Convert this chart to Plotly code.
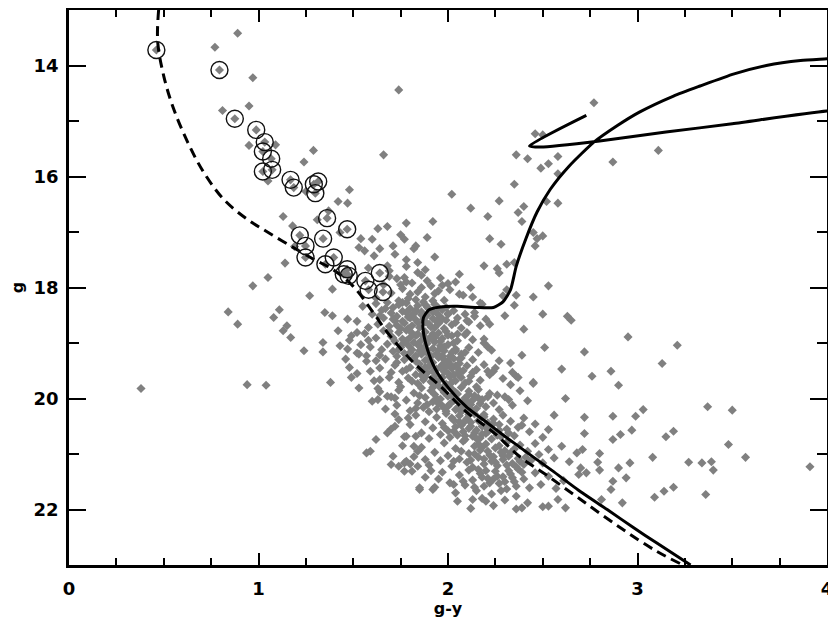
import plotly.graph_objects as go

# ---- data ----
# circled stars (g-y, g)
circled = [
    (0.461, 13.72), (0.794, 14.08), (0.875, 14.96), (0.988, 15.16), (1.033, 15.38),
    (1.023, 15.55), (1.067, 15.68), (1.023, 15.91), (1.072, 15.88), (1.169, 16.06),
    (1.186, 16.20), (1.315, 16.09), (1.292, 16.14), (1.300, 16.30), (1.362, 16.75),
    (1.468, 16.95), (1.341, 17.12), (1.218, 17.06), (1.248, 17.25), (1.248, 17.46),
    (1.397, 17.46), (1.353, 17.58), (1.468, 17.67), (1.476, 17.79), (1.450, 17.76),
    (1.564, 17.88), (1.581, 18.04), (1.640, 17.74), (1.657, 18.08),
]

# scattered field stars
field = [
    (0.89, 13.42), (0.77, 13.67), (0.97, 14.22), (1.74, 14.44), (0.81, 14.81), (0.95, 14.73),
    (0.95, 15.44), (1.09, 15.43), (1.29, 15.53), (1.66, 15.61), (1.24, 15.74), (1.05, 16.08),
    (1.25, 16.27), (1.48, 16.24), (1.42, 16.45), (1.47, 16.48), (1.37, 16.62), (1.78, 16.84),
    (1.13, 16.72), (1.31, 16.78), (1.18, 16.89), (1.63, 16.94), (1.68, 16.90), (1.54, 17.12),
    (1.60, 17.13), (1.77, 17.13), (1.71, 17.25), (1.53, 17.28), (1.64, 17.30), (1.43, 17.01),
    (1.83, 17.25), (1.78, 17.50), (1.56, 17.34), (1.61, 17.43), (1.84, 17.73), (1.14, 17.56),
    (1.19, 17.26), (1.68, 17.61), (1.77, 17.82), (1.05, 17.82), (0.97, 17.97), (1.27, 18.15),
    (1.39, 18.03), (0.84, 18.44), (1.11, 18.40), (1.35, 18.45), (1.08, 18.54), (1.39, 18.51),
    (0.89, 18.66), (1.13, 18.78), (1.15, 18.69), (1.17, 18.90), (1.24, 19.14), (1.42, 18.78),
    (1.47, 18.57), (1.49, 18.87), (1.34, 18.99), (1.34, 19.16), (1.43, 19.05), (1.47, 19.11),
    (1.52, 18.81), (1.53, 19.20), (1.46, 19.29), (1.48, 19.44), (1.49, 19.62), (1.38, 19.71),
    (0.94, 19.75), (1.04, 19.76), (0.38, 19.82), (1.53, 19.81), (1.57, 19.23), (1.59, 19.51),
    (1.62, 19.32), (1.64, 19.66), (1.63, 19.82), (1.63, 20.02), (1.68, 19.96), (1.72, 19.99),
    (1.62, 20.74), (1.57, 20.98), (1.59, 20.95), (1.71, 21.04), (1.70, 21.19), (1.74, 21.22),
    (1.77, 21.31), (1.78, 21.13), (1.72, 20.50), (1.78, 20.68), (1.83, 20.68), (1.82, 20.86),
    (1.85, 21.61), (1.84, 21.22),
    (2.50, 18.48), (2.65, 18.59), (2.40, 18.75), (2.95, 18.89), (3.21, 19.04), (2.51, 19.08),
    (2.72, 19.16), (2.39, 19.22), (3.13, 19.37), (2.27, 19.32), (2.60, 19.47), (2.86, 19.51),
    (2.76, 19.60), (2.90, 19.76), (2.45, 19.71), (2.33, 19.75), (2.36, 19.60), (2.21, 19.51),
    (2.62, 20.00), (3.03, 20.20), (2.99, 20.32), (3.37, 20.15), (3.50, 20.21), (2.56, 20.30),
    (2.72, 20.34), (2.87, 20.32), (2.97, 20.57), (3.19, 20.59), (3.15, 20.69), (2.91, 20.65),
    (2.87, 20.74), (2.72, 20.63), (3.48, 20.83), (3.08, 21.06), (3.57, 21.06), (3.27, 21.15),
    (3.34, 21.16), (3.39, 21.14), (3.40, 21.29), (3.91, 21.23), (3.36, 21.73), (3.19, 21.60),
    (3.14, 21.67), (3.09, 21.78), (2.92, 21.88), (2.96, 21.16), (2.90, 21.25), (2.94, 21.43),
    (2.87, 21.49), (2.86, 21.64), (2.80, 20.99), (2.79, 21.15), (2.80, 21.29), (2.70, 21.25),
    (2.73, 21.34), (2.69, 21.37), (2.71, 20.92), (2.81, 21.82), (2.62, 21.97), (2.53, 21.94),
    (2.39, 21.97), (2.36, 21.76), (2.20, 21.85), (2.13, 21.82), (2.03, 21.55), (1.92, 21.64),
    (1.85, 21.64), (1.81, 21.31), (1.77, 21.16),
    (2.77, 14.67), (2.46, 15.23), (2.50, 15.25), (2.36, 15.61), (2.42, 15.68), (2.49, 15.85),
    (2.53, 15.77), (2.58, 15.64), (2.58, 15.95), (2.87, 15.74), (3.11, 15.53), (2.35, 16.14),
    (2.02, 16.32), (2.27, 16.44), (2.52, 16.45), (2.58, 16.48), (2.12, 16.57), (2.40, 16.54),
    (2.37, 16.65), (2.21, 16.72), (2.39, 16.81), (1.92, 16.81), (2.45, 17.01), (2.50, 17.07),
    (2.47, 17.12), (2.46, 17.25), (2.22, 17.12), (2.28, 17.22), (1.89, 17.10), (2.31, 17.58),
    (2.35, 17.55), (2.26, 17.66), (2.27, 17.74), (2.19, 17.61), (2.06, 17.76), (2.53, 17.97),
    (2.31, 18.04), (2.36, 18.14), (2.06, 18.12), (2.13, 18.17), (2.17, 18.28), (2.45, 18.17),
    (2.35, 18.32), (2.63, 18.52), (2.29, 18.15), (2.30, 18.51), (2.22, 18.66), (2.19, 18.93),
    (2.21, 19.07), (2.24, 19.51), (2.34, 19.53), (2.37, 19.62), (2.45, 19.73), (2.13, 19.53),
    (2.09, 19.17), (2.04, 19.14), (2.06, 19.29), (2.15, 19.79), (2.21, 19.97), (2.26, 19.94),
    (2.32, 20.02), (2.10, 18.81), (2.05, 18.84), (2.18, 18.30), (2.00, 18.48), (2.10, 18.60),
    (2.14, 18.45),
]

# dense main-sequence cloud
cloud = [
    (1.72, 17.40), (1.78, 17.62), (1.84, 17.55), (1.69, 17.70), (1.88, 17.68), (1.75, 17.05),
    (1.82, 17.30), (1.58, 17.65), (1.93, 17.45),
    (1.66, 17.95), (1.70, 18.10), (1.73, 17.84), (1.76, 18.02), (1.79, 18.20), (1.81, 17.92),
    (1.84, 18.08), (1.86, 17.78), (1.88, 18.17), (1.91, 17.97), (1.93, 18.11), (1.96, 17.83),
    (1.98, 18.23), (2.01, 18.04), (2.04, 17.90), (2.08, 18.14), (2.12, 18.00), (1.62, 18.19),
    (1.69, 17.80), (1.74, 18.24), (1.83, 18.22), (1.89, 17.88), (1.95, 18.06), (2.00, 17.93),
    (1.78, 17.90), (1.80, 18.12), (1.86, 18.00), (1.92, 18.24), (1.75, 17.95), (1.97, 17.96),
    (1.52, 18.61), (1.55, 18.34), (1.58, 18.72), (1.60, 18.48), (1.62, 18.29), (1.63, 18.66),
    (1.65, 18.41), (1.66, 18.55), (1.68, 18.27), (1.69, 18.70), (1.70, 18.46), (1.71, 18.36),
    (1.72, 18.60), (1.73, 18.52), (1.74, 18.31), (1.75, 18.74), (1.76, 18.43), (1.77, 18.64),
    (1.78, 18.28), (1.79, 18.53), (1.80, 18.38), (1.81, 18.69), (1.82, 18.47), (1.83, 18.58),
    (1.84, 18.33), (1.85, 18.72), (1.86, 18.44), (1.87, 18.26), (1.88, 18.62), (1.89, 18.50),
    (1.90, 18.39), (1.91, 18.71), (1.92, 18.56), (1.93, 18.30), (1.94, 18.46), (1.95, 18.65),
    (1.96, 18.53), (1.97, 18.40), (1.98, 18.74), (1.99, 18.59), (2.00, 18.47), (2.02, 18.67),
    (2.03, 18.42), (2.05, 18.55), (2.07, 18.73), (2.09, 18.48), (2.11, 18.62), (2.14, 18.52),
    (2.17, 18.69), (2.20, 18.57), (1.67, 18.38), (1.73, 18.68), (1.78, 18.45), (1.84, 18.63),
    (1.89, 18.35), (1.94, 18.61), (1.99, 18.36), (2.04, 18.63), (1.64, 18.51), (1.71, 18.57),
    (1.76, 18.27), (1.81, 18.50), (1.87, 18.57), (1.92, 18.44),
    (1.80, 18.55), (1.86, 18.49), (1.90, 18.66), (1.95, 18.37), (1.83, 18.41), (1.88, 18.31),
    (1.76, 18.61), (1.97, 18.57), (1.93, 18.72), (1.79, 18.74),
    (1.48, 18.95), (1.52, 19.18), (1.56, 18.83), (1.59, 19.07), (1.62, 18.91), (1.64, 19.22),
    (1.66, 18.78), (1.68, 19.02), (1.70, 18.88), (1.71, 19.15), (1.72, 18.97), (1.73, 19.24),
    (1.74, 18.81), (1.75, 19.08), (1.76, 18.93), (1.77, 19.19), (1.78, 18.77), (1.79, 19.04),
    (1.80, 18.90), (1.81, 19.12), (1.82, 18.99), (1.83, 19.23), (1.84, 18.84), (1.85, 19.06),
    (1.86, 18.95), (1.87, 19.16), (1.88, 18.80), (1.89, 19.01), (1.90, 19.21), (1.91, 18.89),
    (1.92, 19.10), (1.93, 18.98), (1.94, 19.19), (1.95, 18.82), (1.96, 19.05), (1.97, 18.92),
    (1.98, 19.14), (1.99, 18.79), (2.00, 19.03), (2.01, 19.24), (2.02, 18.87), (2.04, 19.11),
    (2.05, 18.96), (2.07, 19.20), (2.09, 18.85), (2.11, 19.08), (2.13, 18.94), (2.16, 19.17),
    (2.19, 19.00), (2.23, 19.13), (1.69, 18.79), (1.74, 19.12), (1.78, 18.96), (1.83, 18.87),
    (1.87, 19.09), (1.92, 18.84), (1.97, 19.23), (2.03, 19.00), (1.71, 18.91), (1.76, 19.02),
    (1.81, 18.82), (1.86, 19.20), (1.90, 18.93), (1.95, 19.13), (2.00, 18.86), (1.58, 18.95),
    (1.65, 19.12), (1.54, 19.03),
    (1.84, 19.02), (1.89, 19.13), (1.93, 18.90), (1.98, 19.07), (2.02, 19.17), (1.80, 19.17),
    (1.87, 18.87), (1.96, 18.97), (1.91, 19.24), (1.85, 19.14),
    (1.52, 19.55), (1.57, 19.33), (1.61, 19.68), (1.64, 19.45), (1.67, 19.29), (1.69, 19.62),
    (1.72, 19.40), (1.74, 19.71), (1.76, 19.51), (1.77, 19.30), (1.79, 19.63), (1.80, 19.44),
    (1.82, 19.27), (1.83, 19.57), (1.84, 19.73), (1.85, 19.38), (1.86, 19.49), (1.87, 19.66),
    (1.88, 19.31), (1.89, 19.54), (1.90, 19.42), (1.91, 19.70), (1.92, 19.35), (1.93, 19.59),
    (1.94, 19.47), (1.95, 19.26), (1.96, 19.65), (1.97, 19.39), (1.98, 19.52), (1.99, 19.74),
    (2.00, 19.33), (2.01, 19.61), (2.02, 19.46), (2.03, 19.28), (2.04, 19.68), (2.05, 19.55),
    (2.06, 19.37), (2.08, 19.50), (2.09, 19.72), (2.10, 19.41), (2.12, 19.60), (2.13, 19.30),
    (2.15, 19.48), (2.17, 19.67), (2.19, 19.39), (2.22, 19.57), (2.25, 19.45), (2.29, 19.64),
    (2.33, 19.36), (1.78, 19.48), (1.81, 19.69), (1.86, 19.58), (1.90, 19.29), (1.94, 19.71),
    (1.99, 19.43), (2.03, 19.57), (2.07, 19.27), (2.11, 19.69), (1.73, 19.35), (1.88, 19.44),
    (1.97, 19.62), (2.06, 19.49), (1.70, 19.53), (1.83, 19.33), (1.92, 19.51), (2.01, 19.38),
    (1.91, 19.36), (1.96, 19.44), (2.00, 19.55), (2.04, 19.41), (1.88, 19.61), (1.93, 19.68),
    (2.07, 19.62), (1.85, 19.46), (1.98, 19.30), (2.02, 19.71),
    (1.60, 20.05), (1.64, 19.88), (1.67, 20.19), (1.70, 19.97), (1.73, 20.12), (1.75, 19.79),
    (1.78, 20.03), (1.80, 20.22), (1.82, 19.90), (1.84, 20.08), (1.86, 19.81), (1.87, 20.16),
    (1.88, 19.98), (1.90, 20.24), (1.91, 19.86), (1.92, 20.06), (1.93, 19.93), (1.94, 20.19),
    (1.95, 19.77), (1.96, 20.01), (1.97, 20.13), (1.98, 19.89), (1.99, 20.23), (2.00, 19.96),
    (2.01, 20.10), (2.02, 19.83), (2.03, 20.04), (2.04, 20.20), (2.05, 19.92), (2.06, 20.14),
    (2.07, 19.80), (2.08, 20.07), (2.09, 19.99), (2.10, 20.21), (2.11, 19.87), (2.12, 20.11),
    (2.14, 19.95), (2.15, 20.18), (2.16, 19.84), (2.18, 20.02), (2.20, 20.15), (2.22, 19.91),
    (2.24, 20.08), (2.27, 20.20), (2.30, 19.97), (2.34, 20.12), (2.38, 19.86), (2.42, 20.04),
    (1.89, 20.11), (1.95, 20.09), (2.01, 19.81), (2.07, 20.24), (2.13, 20.03), (1.85, 19.95),
    (1.98, 20.17), (2.04, 19.89), (2.10, 20.06), (1.83, 20.18), (1.92, 19.80), (2.17, 20.09),
    (1.97, 19.84), (2.02, 19.95), (2.06, 20.06), (2.11, 19.93), (2.00, 20.14), (2.08, 20.17),
    (1.94, 20.00), (2.13, 20.22), (2.16, 19.99), (1.99, 19.76), (1.74, 19.85), (1.79, 20.35),
    (1.72, 20.28),
    (1.70, 20.55), (1.74, 20.38), (1.77, 20.69), (1.80, 20.47), (1.83, 20.30), (1.86, 20.62),
    (1.88, 20.42), (1.90, 20.72), (1.92, 20.53), (1.94, 20.34), (1.96, 20.65), (1.97, 20.45),
    (1.99, 20.27), (2.00, 20.58), (2.01, 20.70), (2.03, 20.39), (2.04, 20.51), (2.05, 20.66),
    (2.06, 20.31), (2.07, 20.48), (2.08, 20.60), (2.09, 20.74), (2.10, 20.36), (2.11, 20.54),
    (2.12, 20.43), (2.13, 20.68), (2.14, 20.28), (2.15, 20.57), (2.16, 20.40), (2.17, 20.71),
    (2.18, 20.50), (2.19, 20.33), (2.20, 20.63), (2.21, 20.44), (2.22, 20.56), (2.23, 20.73),
    (2.24, 20.37), (2.25, 20.61), (2.27, 20.47), (2.28, 20.69), (2.29, 20.30), (2.31, 20.55),
    (2.33, 20.41), (2.35, 20.67), (2.37, 20.52), (2.40, 20.35), (2.43, 20.60), (2.46, 20.46),
    (2.50, 20.70), (2.53, 20.56), (2.02, 20.35), (2.08, 20.44), (2.14, 20.62), (2.20, 20.52),
    (2.26, 20.66), (1.98, 20.52), (2.11, 20.29), (2.18, 20.64), (2.32, 20.62), (2.39, 20.48),
    (2.06, 20.42), (2.12, 20.50), (2.17, 20.36), (2.21, 20.60), (2.09, 20.67), (2.15, 20.72),
    (2.24, 20.45), (2.03, 20.59), (2.19, 20.29), (2.27, 20.57), (1.68, 20.62),
    (1.82, 21.05), (1.86, 20.88), (1.90, 21.20), (1.93, 20.97), (1.96, 21.12), (1.98, 20.80),
    (2.00, 21.03), (2.02, 21.22), (2.04, 20.90), (2.06, 21.09), (2.08, 20.77), (2.10, 21.15),
    (2.11, 20.99), (2.13, 21.24), (2.14, 20.86), (2.16, 21.06), (2.17, 20.93), (2.19, 21.18),
    (2.20, 20.82), (2.22, 21.02), (2.23, 21.13), (2.25, 20.89), (2.26, 21.21), (2.28, 20.97),
    (2.29, 21.10), (2.31, 20.79), (2.32, 21.04), (2.34, 21.17), (2.35, 20.91), (2.37, 21.08),
    (2.38, 20.84), (2.40, 21.19), (2.42, 20.95), (2.44, 21.11), (2.46, 20.81), (2.48, 21.01),
    (2.50, 21.16), (2.53, 20.92), (2.56, 21.07), (2.60, 20.86), (2.64, 21.14), (2.68, 20.98),
    (2.07, 20.95), (2.12, 21.11), (2.18, 20.88), (2.24, 21.05), (2.30, 20.94), (2.36, 21.23),
    (2.41, 21.06), (2.03, 21.13),
    (2.16, 20.82), (2.21, 20.95), (2.27, 20.85), (2.33, 20.98), (2.19, 21.09), (2.25, 21.15),
    (2.31, 21.20), (2.38, 21.13), (2.14, 21.00), (2.29, 21.03), (1.76, 20.85), (1.84, 20.95),
    (1.88, 21.10), (1.80, 21.18),
    (1.88, 21.42), (1.93, 21.60), (1.97, 21.33), (2.01, 21.52), (2.04, 21.70), (2.06, 21.38),
    (2.09, 21.56), (2.11, 21.29), (2.13, 21.47), (2.15, 21.66), (2.17, 21.35), (2.19, 21.58),
    (2.21, 21.44), (2.23, 21.72), (2.25, 21.31), (2.27, 21.53), (2.29, 21.41), (2.31, 21.63),
    (2.33, 21.36), (2.35, 21.50), (2.37, 21.27), (2.40, 21.45), (2.43, 21.61), (2.46, 21.34),
    (2.49, 21.55), (2.53, 21.40), (2.57, 21.62), (2.61, 21.48), (2.08, 21.49), (2.16, 21.28),
    (2.24, 21.45), (2.32, 21.30),
    (2.20, 21.30), (2.26, 21.40), (2.34, 21.43), (2.22, 21.52), (2.30, 21.50), (2.39, 21.33),
    (2.18, 21.42), (2.14, 21.60), (2.28, 21.66), (2.36, 21.58), (1.91, 21.30), (1.95, 21.45),
    (2.05, 21.85), (2.12, 21.98), (2.18, 21.80), (2.24, 21.93), (2.30, 21.83), (2.36, 21.99),
    (2.42, 21.88), (2.50, 21.95), (2.58, 21.82),
]

# dashed reference sequence
zams_x = [0.473, 0.468, 0.50, 0.552, 0.626, 0.71, 0.816, 0.94, 1.047, 1.169, 1.29, 1.39,
          1.50, 1.605, 1.68, 1.817, 1.96, 2.10, 2.24, 2.38, 2.52, 2.70, 2.91, 3.10, 3.24]
zams_g = [13.0, 13.57, 14.19, 14.78, 15.38, 15.92, 16.41, 16.77, 17.0, 17.25, 17.49, 17.67,
          17.98, 18.45, 18.81, 19.35, 19.78, 20.25, 20.61, 21.05, 21.38, 21.82, 22.33, 22.75, 23.0]

# solid isochrone
iso_x = [3.28, 3.10, 2.98, 2.84, 2.70, 2.55, 2.42, 2.30, 2.20, 2.10, 2.00, 1.93, 1.89, 1.87,
         1.87, 1.90, 1.96, 2.05, 2.15, 2.24, 2.29, 2.33, 2.36, 2.41, 2.47, 2.54, 2.64, 2.77,
         2.89, 3.01, 3.19, 3.33, 3.51, 3.68, 3.86, 4.00, 4.40, 4.40, 4.00, 3.50, 3.15, 2.80,
         2.49, 2.43, 2.73]
iso_g = [23.0, 22.6, 22.33, 22.0, 21.68, 21.3, 20.98, 20.68, 20.42, 20.16, 19.8, 19.45, 19.1,
         18.8, 18.55, 18.4, 18.35, 18.34, 18.36, 18.36, 18.26, 18.04, 17.62, 17.13, 16.64,
         16.23, 15.81, 15.38, 15.09, 14.84, 14.55, 14.37, 14.15, 14.0, 13.91, 13.88, 13.8,
         14.75, 14.82, 15.05, 15.2, 15.36, 15.47, 15.45, 14.9]

GRAY = "#808080"
FONT = "DejaVu Sans"

stars = field + cloud + circled
fig = go.Figure()

fig.add_trace(go.Scatter(
    x=[p[0] for p in stars], y=[p[1] for p in stars], mode="markers",
    marker=dict(symbol="diamond", size=7, color=GRAY, line_width=0),
    showlegend=False, hoverinfo="skip"
))

fig.add_trace(go.Scatter(
    x=zams_x, y=zams_g, mode="lines",
    line=dict(color="black", width=3, dash="10px,6px", shape="spline"),
    showlegend=False
))

fig.add_trace(go.Scatter(
    x=iso_x, y=iso_g, mode="lines",
    line=dict(color="black", width=3, shape="spline", smoothing=0.6),
    showlegend=False
))

fig.add_trace(go.Scatter(
    x=[p[0] for p in circled], y=[p[1] for p in circled], mode="markers",
    marker=dict(symbol="circle-open", size=17, color="#111111", line_width=1.4),
    showlegend=False
))

axis_common = dict(
    showgrid=False, zeroline=False, showline=True, linecolor="black", linewidth=2.5,
    mirror="ticks", ticks="inside", tickcolor="black", tickwidth=2,
    tickfont=dict(family=FONT, size=18, color="black", weight="bold"),
)

fig.update_xaxes(
    range=[0, 4], tick0=0, dtick=1, ticklen=12, ticklabelstandoff=6,
    minor=dict(dtick=0.25, ticks="inside", ticklen=7, tickwidth=2, tickcolor="black"),
    title=dict(text="g-y", font=dict(family=FONT, size=16, color="black", weight="bold"),
               standoff=2),
    **axis_common
)
fig.update_yaxes(
    range=[23, 13], tick0=14, dtick=2, ticklen=17, ticklabelstandoff=4,
    minor=dict(dtick=1, ticks="inside", ticklen=10, tickwidth=2, tickcolor="black"),
    title=dict(text="g", font=dict(family=FONT, size=16, color="black", weight="bold"),
               standoff=12),
    **axis_common
)

# page body adds an 8px offset, so the figure is 8px smaller than the window
fig.update_layout(
    width=828, height=615,
    margin=dict(l=61, r=9, t=2, b=58, autoexpand=False),
    plot_bgcolor="white", paper_bgcolor="white",
)

fig.write_html("out.html")
